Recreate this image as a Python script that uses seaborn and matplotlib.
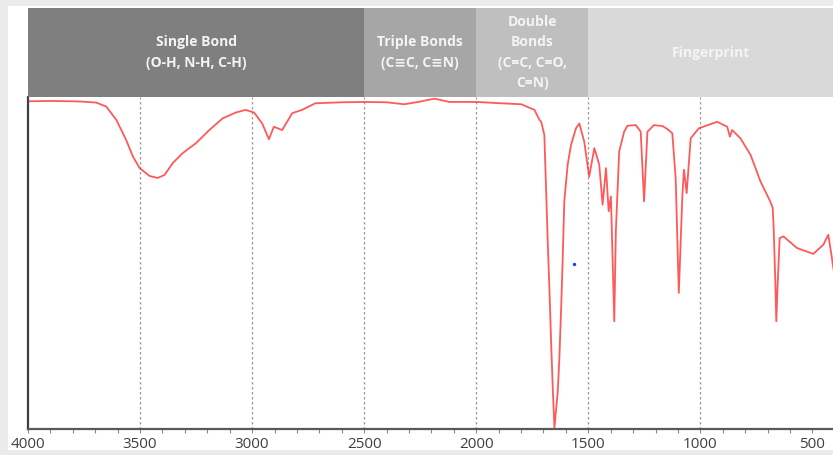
import matplotlib
matplotlib.use("Agg")
import matplotlib.pyplot as plt
import seaborn as sns
import pandas as pd
from matplotlib.patches import Rectangle
from matplotlib.ticker import MultipleLocator

# IR spectrum (wavenumber cm-1, % transmittance)
wavenumber = [4000, 3900, 3800, 3755, 3695, 3651, 3606, 3562, 3532, 3502,
              3458, 3421, 3391, 3354, 3310, 3251, 3191, 3132, 3073, 3029,
              2991, 2955, 2925, 2903, 2866, 2821, 2777, 2718, 2600, 2500,
              2400, 2321, 2260, 2186, 2120, 2000, 1888, 1799, 1740, 1718,
              1710, 1696, 1688, 1681, 1673, 1666, 1658, 1651, 1636, 1629,
              1621, 1614, 1607, 1592, 1577, 1555, 1540, 1518, 1496, 1473,
              1451, 1436, 1421, 1409, 1399, 1384, 1377, 1362, 1340, 1325,
              1288, 1266, 1251, 1236, 1207, 1169, 1147, 1125, 1110, 1096,
              1080, 1073, 1061, 1043, 1007, 925, 880, 868, 858, 821,
              776, 732, 688, 677, 673, 665, 661, 655, 646, 629,
              569, 496, 451, 429, 413, 405]
transmittance = [99.2, 99.3, 99.2, 99.1, 98.8, 97.6, 93.6, 87.5, 82.5, 79.0,
                 76.6, 76.0, 76.9, 80.5, 83.5, 86.5, 90.5, 94.0, 95.8, 96.6,
                 95.8, 92.5, 87.7, 91.5, 90.5, 95.6, 96.6, 98.6, 98.9, 99.0,
                 98.9, 98.3, 99.0, 100.0, 99.0, 99.0, 98.6, 98.3, 96.6, 93.6,
                 93.0, 89.0, 72.0, 56.8, 41.7, 26.6, 11.5, 0.4, 11.5, 21.5,
                 36.6, 51.8, 68.9, 80.0, 86.0, 91.0, 92.5, 87.0, 76.4, 85.0,
                 80.0, 67.9, 79.0, 65.9, 70.4, 32.6, 59.8, 84.0, 90.0, 91.8,
                 92.0, 90.0, 68.9, 90.0, 92.0, 91.7, 90.8, 89.5, 75.9, 41.2,
                 70.9, 78.5, 71.4, 88.0, 91.0, 93.0, 91.5, 88.5, 90.5, 88.0,
                 83.0, 75.0, 68.9, 66.9, 61.3, 43.7, 32.6, 43.7, 57.8, 58.3,
                 54.8, 53.0, 55.8, 58.8, 51.8, 48.0]

# header bands
region_labels = ["Single Bond\n(O-H, N-H, C-H)", "Triple Bonds\n(C\u2261C, C\u2261N)",
                 "Double\nBonds\n(C=C, C=O,\nC=N)", "Fingerprint"]
region_start = [4000, 2500, 2000, 1500]
region_end = [2500, 2000, 1500, 408]
region_colors = ["#7f7f7f", "#a6a6a6", "#bfbfbf", "#d9d9d9"]

grid_lines = [3500, 3000, 2500, 2000, 1500, 1000]

spectrum = pd.DataFrame({"wavenumber": wavenumber, "T": transmittance})

sns.set_style("white")
plt.rcParams["font.family"] = ["Open Sans", "DejaVu Sans"]

W, H = 833, 455
fig = plt.figure(figsize=(W / 100, H / 100), dpi=100, facecolor="#ebebeb")
fig.patches.append(Rectangle((8 / W, 5 / H), 1, (H - 11) / H,
                             transform=fig.transFigure, facecolor="white",
                             edgecolor="none", zorder=-10))

x_left = 28 / W
ax = fig.add_axes([x_left, (H - 429) / H, 1 - x_left, (429 - 97) / H])
head = fig.add_axes([x_left, (H - 97) / H, 1 - x_left, (97 - 8) / H])

xlim = (4000, 408)

# spectrum
sns.lineplot(data=spectrum, x="wavenumber", y="T", sort=False, estimator=None,
             color="#ff3030", linewidth=1.3, alpha=0.8, ax=ax)
ax.scatter([1562], [49.8], s=2, color="#1a3cff", zorder=3)

for g in grid_lines:
    ax.axvline(g, color="#9a9a9a", linestyle=(0, (2, 2)), linewidth=0.9, zorder=0)

ax.set_xlim(*xlim)
ax.set_ylim(0, 100.5)
ax.set_yticks([])
ax.set_xlabel("")
ax.set_ylabel("")
ax.set_xticks([4000, 3500, 3000, 2500, 2000, 1500, 1000, 500])
ax.xaxis.set_minor_locator(MultipleLocator(100))
ax.tick_params(axis="x", which="both", direction="out", length=3, width=0.8,
               color="#8c8c8c", labelsize=11, labelcolor="#404040", pad=3,
               bottom=True)
for side in ["top", "right"]:
    ax.spines[side].set_visible(False)
ax.spines["left"].set_color("#404040")
ax.spines["left"].set_linewidth(1.6)
ax.spines["bottom"].set_color("#595959")
ax.spines["bottom"].set_linewidth(1.6)
ax.patch.set_alpha(0)

# header bands
for label, x0, x1, c in zip(region_labels, region_start, region_end, region_colors):
    head.axvspan(x0, x1, color=c, linewidth=0)
    head.text((x0 + x1) / 2, 0.5, label, ha="center", va="center",
              color="#f4f4f4", fontsize=10, fontweight="bold",
              linespacing=1.55, transform=head.get_xaxis_transform())
head.set_xlim(*xlim)
head.set_ylim(0, 1)
head.set_xticks([])
head.set_yticks([])
for s in head.spines.values():
    s.set_visible(False)

fig.savefig("out.png", dpi=100, facecolor=fig.get_facecolor())
